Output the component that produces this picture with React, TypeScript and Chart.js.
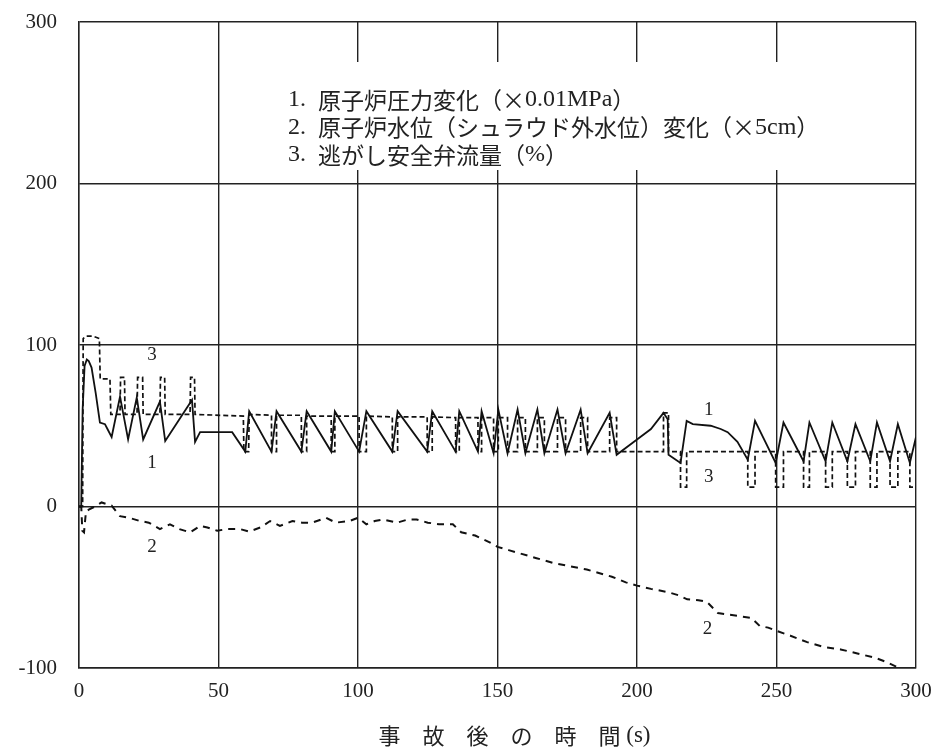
import React, { useEffect, useRef } from "react";
import { Chart, registerables } from "chart.js";

Chart.register(...registerables);

// ---------- data ----------
const xTickValues = [0, 50, 100, 150, 200, 250, 300];
const yTickValues = [-100, 0, 100, 200, 300];

const legendLines = [
  "1.  原子炉圧力変化（×0.01MPa）",
  "2.  原子炉水位（シュラウド外水位）変化（×5cm）",
  "3.  逃がし安全弁流量（%）",
];
const xTitle = "事　故　後　の　時　間 (s)";

// 1. reactor pressure change (x0.01 MPa)
const pressure: [number, number][] = [
  [0, 0], [0.8, 0], [1.3, 60], [2, 87], [2.8, 91], [3.5, 90], [4.5, 86], [6, 70], [7.5, 52],
  [9.3, 51], [10.2, 48], [11.7, 43], [14.7, 68], [17.6, 41.5], [20.7, 67.5], [23, 41.5],
  [29, 65], [30.9, 40.5], [40.5, 66], [41.6, 40], [43.4, 46], [54.9, 46], [59.6, 34],
  [61, 59], [69, 34], [70.8, 59], [79.7, 34], [81.6, 59], [90.4, 34], [91.7, 59],
  [100.4, 34], [103, 59], [112.3, 34], [114.2, 59], [124.8, 34], [126.6, 59], [135, 34],
  [136.3, 59], [143, 34], [144.3, 59], [148.6, 33], [150.3, 60], [153.6, 33], [157.2, 60],
  [160, 33], [164.3, 60], [166.8, 33], [171.5, 60], [174.4, 33], [179.8, 60], [182.3, 33],
  [190.2, 58], [192.7, 32], [200, 41.5], [205, 48], [209.5, 58], [211, 54], [211.3, 32],
  [215.6, 27], [217.8, 53], [220, 51], [226.4, 50], [230, 48], [232.5, 46], [236, 40],
  [239.7, 29], [242.3, 53], [249.7, 27], [252.5, 52], [259.7, 28], [261.8, 52], [267.6, 28],
  [270, 52], [275.4, 28], [278.3, 51], [283.6, 28], [286, 52], [290.7, 28], [293.5, 51],
  [297.8, 27], [300, 43],
];

// 2. reactor water level change (x5 cm)
const waterLevel: [number, number][] = [
  [0, 0], [0.8, 0], [1.2, -15], [1.8, -16], [2.5, -3], [3.5, -2], [5.7, 0], [8.1, 2.5],
  [11.7, 0.5], [14.7, -6], [18, -7], [21.9, -9], [25, -10], [29, -14], [32.6, -11],
  [36, -14], [39.8, -16], [43.4, -12], [46, -13], [49.5, -15], [53, -14], [57.8, -14],
  [61, -15.5], [65, -13], [68.5, -9], [72, -12], [76.5, -9], [80, -10], [83.6, -10],
  [88.6, -7], [92, -10], [97, -9], [100, -7], [103, -11], [106, -9], [109, -8], [114, -10],
  [118, -8], [121, -8], [125, -10], [129, -11], [134, -11], [137, -16], [142, -18],
  [147, -22], [150, -25], [154, -27], [158, -29], [164, -32], [170, -35], [176, -37],
  [182, -39], [186, -41], [191, -43.5], [196, -47], [200, -49], [205, -51], [211, -53],
  [215, -55], [218, -57.5], [222, -58], [225, -59], [229, -66], [233, -67], [237, -68],
  [241, -69], [244, -74], [247, -75], [250, -77], [255, -80], [261, -84], [267, -87],
  [273, -88.5], [279, -91], [285, -93.5], [289, -96], [294, -100],
];

// 3. SRV flow (%)
const srvFlow: [number, number][] = [
  [0, 0], [1.3, 0], [1.5, 104], [2.5, 105.5], [5, 105.5], [7.3, 104], [7.6, 79], [11.1, 79],
  [11.4, 57], [14.7, 57], [14.9, 80], [16.3, 80], [16.5, 57], [20.8, 57], [21, 80],
  [22.8, 80], [23, 57], [29, 57], [29.2, 80], [30.7, 80], [30.9, 57], [39.8, 57], [40, 80],
  [41.4, 80], [41.6, 57], [58.9, 56], [59.1, 34], [60.8, 34], [61, 57],
  [69, 56.5], [69, 34], [70.8, 34], [70.8, 56.5], [79.7, 56.5], [79.7, 34], [81.6, 34],
  [81.6, 56], [90.4, 56], [90.4, 34], [91.7, 34], [91.7, 56], [100.4, 56], [100.4, 34],
  [103, 34], [103, 56], [112.3, 55.5], [112.3, 34], [114.2, 34], [114.2, 55.5],
  [124.8, 55.5], [124.8, 34], [126.6, 34], [126.6, 55.5], [135, 55], [135, 34], [136.3, 34],
  [136.3, 55], [143, 55], [143, 34], [144.3, 34], [144.3, 55], [148.6, 55], [148.6, 34],
  [150.3, 34], [150.3, 55], [153.6, 55], [153.6, 34], [157.2, 34], [157.2, 55], [160, 55],
  [160, 34], [164.3, 34], [164.3, 55], [166.8, 55], [166.8, 34], [171.5, 34], [171.5, 55],
  [174.4, 55], [174.4, 34], [179.8, 34], [179.8, 55], [182.3, 55], [182.3, 34], [190.2, 34],
  [190.2, 55], [192.7, 55], [192.7, 34], [209.5, 34], [209.5, 58], [211.3, 58], [211.3, 34],
  [215.6, 34], [215.6, 12], [217.8, 12], [217.8, 34], [239.7, 34], [239.7, 12], [242.3, 12],
  [242.3, 34], [249.7, 34], [249.7, 12], [252.5, 12], [252.5, 34], [259.7, 34], [259.7, 12],
  [261.8, 12], [261.8, 34], [267.6, 34], [267.6, 12], [270, 12], [270, 34], [275.4, 34],
  [275.4, 12], [278.3, 12], [278.3, 34], [283.6, 34], [283.6, 12], [286, 12], [286, 34],
  [290.7, 34], [290.7, 12], [293.5, 12], [293.5, 34], [297.8, 34], [297.8, 12], [300, 12],
];

// curve number labels (data coordinates)
const curveLabels: { text: string; t: number; v: number }[] = [
  { text: "3", t: 26.2, v: 94 },
  { text: "1", t: 26.2, v: 27 },
  { text: "2", t: 26.2, v: -25 },
  { text: "1", t: 225.7, v: 60 },
  { text: "3", t: 225.7, v: 18 },
  { text: "2", t: 225.3, v: -76 },
];

const SERIF = "'Liberation Serif', serif";
const CJK = "'Noto Sans CJK JP', sans-serif";
const INK = "#222";

const toXY = (arr: [number, number][]) => arr.map(([x, y]) => ({ x, y }));

// draw text with ASCII runs in a serif face and everything else in the CJK face
function drawMixed(ctx: CanvasRenderingContext2D, text: string, x: number, y: number, size: number, align: "left" | "center") {
  const runs: { s: string; ascii: boolean }[] = [];
  for (const ch of text) {
    const ascii = ch.charCodeAt(0) < 128;
    const last = runs[runs.length - 1];
    if (last && last.ascii === ascii) last.s += ch;
    else runs.push({ s: ch, ascii });
  }
  const fontFor = (a: boolean) => (a ? `${size}px ${SERIF}` : `${Math.round(size * 0.94)}px ${CJK}`);
  let total = 0;
  const widths = runs.map((r) => {
    ctx.font = fontFor(r.ascii);
    const w = ctx.measureText(r.s).width;
    total += w;
    return w;
  });
  let cx = align === "center" ? x - total / 2 : x;
  ctx.textAlign = "left";
  runs.forEach((r, i) => {
    ctx.font = fontFor(r.ascii);
    ctx.fillText(r.s, cx, y);
    cx += widths[i];
  });
}

const decorPlugin = {
  id: "decor",
  beforeDatasetsDraw(chart: any) {
    const ctx = chart.ctx;
    ctx.save();
    ctx.fillStyle = "#fff";
    ctx.fillRect(282, 62, 526, 108);
    ctx.restore();
  },
  afterDraw(chart: any) {
    const ctx = chart.ctx;
    const xs = chart.scales.x;
    const ys = chart.scales.y;
    const area = chart.chartArea;
    ctx.save();
    ctx.fillStyle = INK;
    ctx.textBaseline = "middle";
    // legend text
    legendLines.forEach((s, i) => {
      drawMixed(ctx, s, 288, 100 + i * 27.5, 24, "left");
    });
    // curve numbers
    ctx.font = `19px ${SERIF}`;
    ctx.textAlign = "center";
    curveLabels.forEach((l) => {
      ctx.fillText(l.text, xs.getPixelForValue(l.t), ys.getPixelForValue(l.v));
    });
    // x axis title
    drawMixed(ctx, xTitle, (area.left + area.right) / 2 + 17, 736, 23, "center");
    ctx.restore();
  },
};

const zeroPad = (s: any) => {
  s.paddingTop = 0;
  s.paddingBottom = 0;
  s.paddingLeft = 0;
  s.paddingRight = 0;
};

export default function App() {
  const ref = useRef<HTMLCanvasElement | null>(null);
  useEffect(() => {
    if (!ref.current) return;
    const lineBase = { pointRadius: 0, tension: 0, fill: false, borderColor: "#111" };
    const chart = new Chart(ref.current, {
      type: "line",
      data: {
        datasets: [
          { ...lineBase, label: "1", data: toXY(pressure), borderWidth: 1.8 },
          { ...lineBase, label: "2", data: toXY(waterLevel), borderWidth: 2, borderDash: [7, 6] },
          { ...lineBase, label: "3", data: toXY(srvFlow), borderWidth: 1.7, borderDash: [5, 3] },
        ],
      },
      options: {
        animation: false,
        responsive: true,
        maintainAspectRatio: false,
        devicePixelRatio: 1,
        layout: { padding: { left: 0, top: 22, right: 22, bottom: 0 } },
        plugins: { legend: { display: false }, tooltip: { enabled: false } },
        scales: {
          x: {
            type: "linear",
            min: 0,
            max: 300,
            afterBuildTicks: (s: any) => {
              s.ticks = xTickValues.map((value) => ({ value }));
            },
            afterFit: (s: any) => {
              s.height = 86;
              zeroPad(s);
            },
            grid: { color: INK, lineWidth: 1.4, drawTicks: false },
            border: { color: INK, width: 1.4 },
            ticks: { color: INK, padding: 11, font: { family: SERIF, size: 21 }, maxRotation: 0 },
          },
          y: {
            type: "linear",
            min: -100,
            max: 300,
            afterBuildTicks: (s: any) => {
              s.ticks = yTickValues.map((value) => ({ value }));
            },
            afterFit: (s: any) => {
              s.width = 79;
              zeroPad(s);
            },
            grid: { color: INK, lineWidth: 1.4, drawTicks: false },
            border: { color: INK, width: 1.4 },
            ticks: { color: INK, padding: 22, font: { family: SERIF, size: 21 } },
          },
        },
      },
      plugins: [decorPlugin],
    });
    return () => chart.destroy();
  }, []);
  return (
    <div style={{ position: "fixed", left: 0, top: 0, width: 938, height: 754, background: "#fff" }}>
      <canvas ref={ref} />
    </div>
  );
}
